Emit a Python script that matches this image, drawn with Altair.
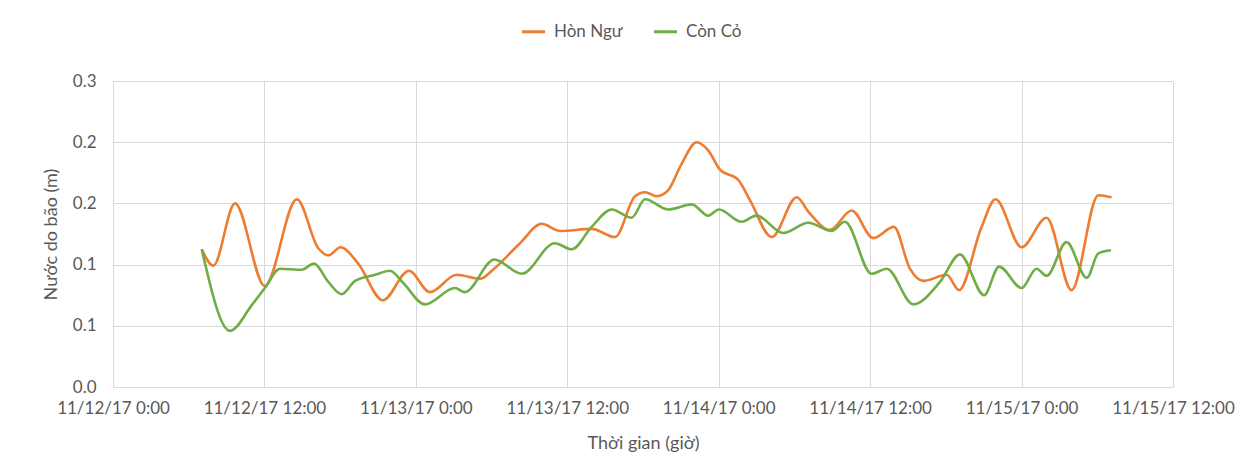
import altair as alt
import pandas as pd

# Hòn Ngư series: hours after 11/12/17 0:00 and surge values (m)
hon_ngu_hours = [7.03, 7.95, 9.67, 12.04, 14.56, 16.27, 17.06, 18.04, 19.44, 21.39,
                 23.45, 25.12, 27.23, 29.08, 30.11, 32.25, 33.97, 35.42, 37.93, 39.78,
                 41.36, 42.16, 43.08, 44.0, 45.06, 46.25, 47.17, 48.1, 49.55, 50.48,
                 52.2, 54.18, 55.1, 56.81, 58.53, 60.25, 61.89, 63.15, 64.21, 66.06,
                 67.04, 68.83, 69.94, 72.0, 73.98, 75.97, 78.08, 79.14]
hon_ngu_vals = [0.135, 0.119, 0.180, 0.099, 0.184, 0.136, 0.129, 0.137, 0.121, 0.085,
                0.114, 0.093, 0.110, 0.106, 0.115, 0.141, 0.160, 0.153, 0.155, 0.147,
                0.187, 0.191, 0.187, 0.193, 0.219, 0.240, 0.232, 0.213, 0.203, 0.183,
                0.147, 0.186, 0.172, 0.154, 0.173, 0.146, 0.157, 0.116, 0.104, 0.110,
                0.095, 0.157, 0.184, 0.137, 0.166, 0.095, 0.188, 0.186]

# Còn Cỏ series
con_co_hours = [7.03, 9.27, 10.99, 12.04, 13.23, 14.95, 15.93, 17.06, 18.12, 19.18,
                20.76, 21.95, 23.0, 24.72, 27.1, 27.89, 30.21, 32.38, 35.02, 36.35,
                37.93, 39.52, 41.1, 42.16, 44.0, 45.86, 47.17, 48.02, 49.82, 51.0,
                53.11, 55.1, 56.95, 58.0, 60.12, 61.31, 63.41, 65.53, 67.12, 69.04,
                70.21, 72.0, 73.19, 73.98, 75.57, 77.16, 78.08, 79.08]
con_co_vals = [0.135, 0.055, 0.080, 0.097, 0.116, 0.115, 0.121, 0.103, 0.091, 0.104,
               0.110, 0.114, 0.102, 0.081, 0.097, 0.093, 0.125, 0.111, 0.141, 0.135,
               0.157, 0.174, 0.166, 0.184, 0.174, 0.179, 0.168, 0.174, 0.162, 0.168,
               0.151, 0.161, 0.153, 0.162, 0.111, 0.116, 0.081, 0.103, 0.130, 0.090,
               0.118, 0.097, 0.116, 0.109, 0.142, 0.107, 0.131, 0.134]

series_names = ["Hòn Ngư", "Còn Cỏ"]
series_colors = ["#ED7D31", "#70AD47"]
y_ticks = [0.0, 0.06, 0.12, 0.18, 0.24, 0.30]

start = pd.Timestamp("2017-11-12 00:00")
rows = []
for name, hrs, vals in [(series_names[0], hon_ngu_hours, hon_ngu_vals),
                        (series_names[1], con_co_hours, con_co_vals)]:
    for i, (h, v) in enumerate(zip(hrs, vals)):
        t = start + pd.to_timedelta(round(h * 60), unit="m")
        rows.append({"time": t.strftime("%Y-%m-%dT%H:%M:00"), "value": v,
                     "series": name, "order": i})
df = pd.DataFrame(rows)

x_ticks = [alt.DateTime(year=2017, month=11, date=d, hours=hh)
           for d, hh in [(12, 0), (12, 12), (13, 0), (13, 12), (14, 0), (14, 12), (15, 0), (15, 12)]]

FONT = "Lato"
GRAY = "#595959"

chart = alt.Chart(df).mark_line(interpolate="monotone", strokeWidth=2.6).encode(
    x=alt.X("time:T",
            scale=alt.Scale(domain=[alt.DateTime(year=2017, month=11, date=12, hours=0),
                                    alt.DateTime(year=2017, month=11, date=15, hours=12)]),
            axis=alt.Axis(values=x_ticks, format="%m/%d/%y %-H:%M", title="Thời gian (giờ)",
                          labelFontSize=17, titleFontSize=18, labelColor=GRAY, titleColor=GRAY,
                          titleFontWeight="normal", ticks=False, domainColor="#d9d9d9",
                          gridColor="#d9d9d9", labelPadding=13, titlePadding=18,
                          labelOverlap=False, labelFlush=False, labelBound=False,
                          labelFont=FONT, titleFont=FONT)),
    y=alt.Y("value:Q", scale=alt.Scale(domain=[0, 0.3], nice=False, zero=True),
            axis=alt.Axis(values=y_ticks, format=".1f", title="Nước do bão (m)",
                          labelFontSize=17, titleFontSize=18, labelColor=GRAY, titleColor=GRAY,
                          titleFontWeight="normal", ticks=False, domain=False,
                          gridColor="#d9d9d9", labelPadding=17, titlePadding=12,
                          labelFont=FONT, titleFont=FONT)),
    color=alt.Color("series:N", sort=series_names,
                    scale=alt.Scale(domain=series_names, range=series_colors),
                    legend=alt.Legend(title=None, orient="none", legendX=407, legendY=-63,
                                      direction="horizontal", symbolType="stroke",
                                      symbolStrokeWidth=3, symbolSize=530,
                                      labelFontSize=17, labelColor=GRAY, labelFont=FONT,
                                      columnPadding=24, labelOffset=7)),
    order="order:Q",
).properties(
    width=1060, height=306,
    autosize=alt.AutoSizeParams(type="none"),
    padding={"left": 105, "top": 73, "right": 67, "bottom": 79},
).configure_view(stroke=None)

chart.save("out.html", embed_options={"renderer": "svg", "actions": False})
